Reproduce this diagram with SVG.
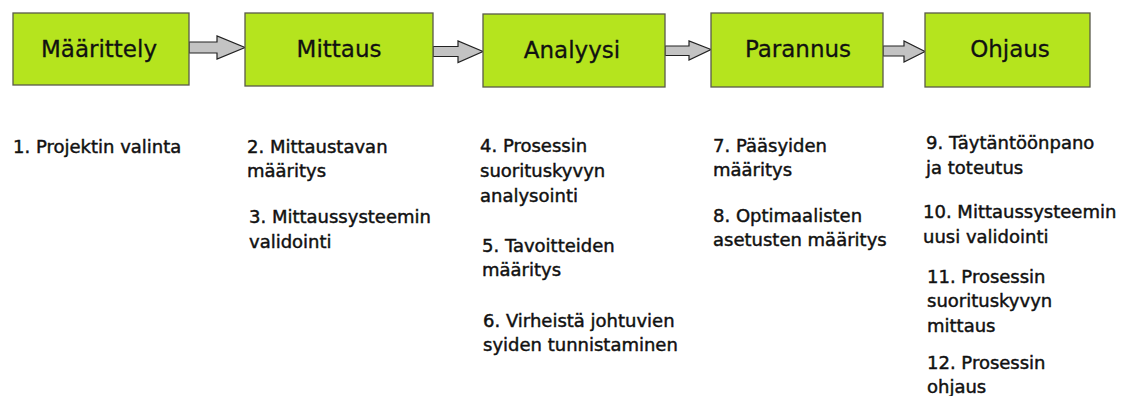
<svg xmlns="http://www.w3.org/2000/svg" width="1125" height="396" viewBox="0 0 1125 396">
<style>
.box{fill:#b5e41e;stroke:#5a5a4a;stroke-width:1.3}
.ttl{font-family:"DejaVu Sans",sans-serif;font-size:23px;fill:#111;stroke:#111;stroke-width:0.3;text-anchor:middle}
.txt{font-family:"DejaVu Sans",sans-serif;font-size:18px;fill:#111;stroke:#111;stroke-width:0.45}
.arr{fill:#c3c3c3;stroke:#222;stroke-width:1.2}
</style>
<rect width="1125" height="396" fill="#fff"/>
<g id="connectors">
<polygon class="arr" points="189,42 217,42 217,36 245,47.5 217,59 217,53 189,53"/>
<polygon class="arr" points="433,46.5 458,46.5 458,41 483,51.5 458,62.5 458,56.5 433,56.5"/>
<polygon class="arr" points="665,46 689,46 689,41 711,49.5 689,60 689,55.5 665,55.5"/>
<polygon class="arr" points="883,46 904,46 904,41 925,51.5 904,62 904,56 883,56"/>
</g>
<g id="n1"><rect class="box" x="13" y="13" width="176" height="72"/><text class="ttl" x="99" y="57">Määrittely</text></g>
<g id="n2"><rect class="box" x="245" y="13" width="188" height="73"/><text class="ttl" x="339" y="57">Mittaus</text></g>
<g id="n3"><rect class="box" x="483" y="14" width="182" height="73"/><text class="ttl" x="572" y="58">Analyysi</text></g>
<g id="n4"><rect class="box" x="711" y="13" width="172" height="74"/><text class="ttl" x="798" y="57">Parannus</text></g>
<g id="n5"><rect class="box" x="925" y="13" width="165" height="74"/><text class="ttl" x="1010" y="57">Ohjaus</text></g>
<g id="t1"><text class="txt" x="13" y="153">1. Projektin valinta</text></g>
<g id="t2"><text class="txt" x="247" y="153">2. Mittaustavan</text><text class="txt" x="247" y="177">määritys</text></g>
<g id="t3"><text class="txt" x="249" y="223">3. Mittaussysteemin</text><text class="txt" x="249" y="248">validointi</text></g>
<g id="t4"><text class="txt" x="480" y="152">4. Prosessin</text><text class="txt" x="480" y="177">suorituskyvyn</text><text class="txt" x="480" y="202">analysointi</text></g>
<g id="t5"><text class="txt" x="482" y="252">5. Tavoitteiden</text><text class="txt" x="482" y="276">määritys</text></g>
<g id="t6"><text class="txt" x="483" y="327">6. Virheistä johtuvien</text><text class="txt" x="483" y="351">syiden tunnistaminen</text></g>
<g id="t7"><text class="txt" x="713" y="152">7. Pääsyiden</text><text class="txt" x="713" y="176">määritys</text></g>
<g id="t8"><text class="txt" x="713" y="222">8. Optimaalisten</text><text class="txt" x="713" y="246">asetusten määritys</text></g>
<g id="t9"><text class="txt" x="926" y="149">9. Täytäntöönpano</text><text class="txt" x="926" y="174">ja toteutus</text></g>
<g id="t10"><text class="txt" x="923" y="218">10. Mittaussysteemin</text><text class="txt" x="923" y="243">uusi validointi</text></g>
<g id="t11"><text class="txt" x="927" y="283">11. Prosessin</text><text class="txt" x="927" y="307">suorituskyvyn</text><text class="txt" x="927" y="332">mittaus</text></g>
<g id="t12"><text class="txt" x="927" y="369">12. Prosessin</text><text class="txt" x="927" y="393">ohjaus</text></g>
</svg>
